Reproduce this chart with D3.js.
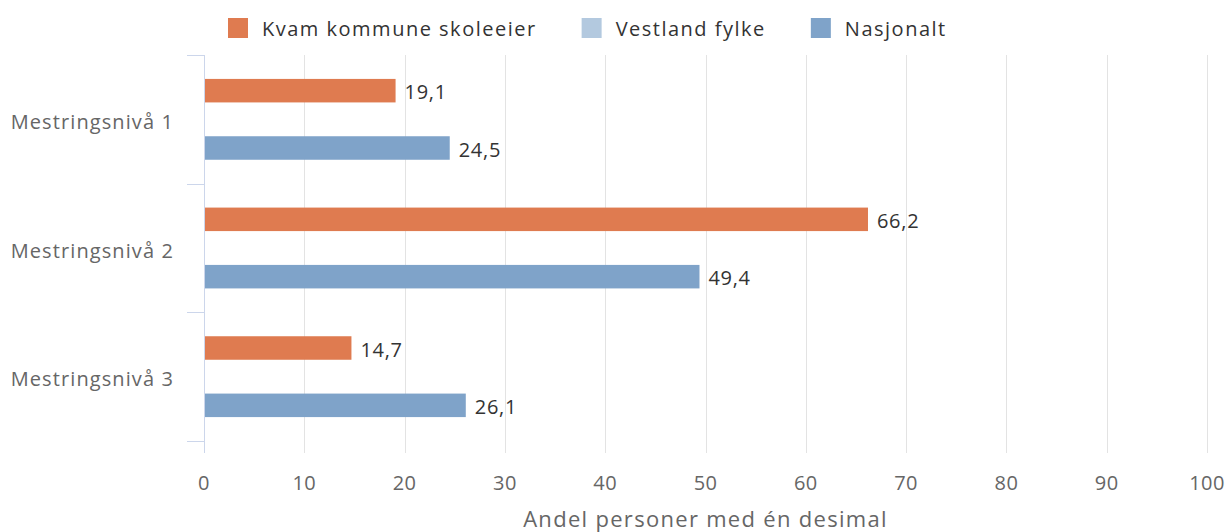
<!DOCTYPE html>
<html>
<head>
<meta charset="utf-8">
<script src="https://cdn.jsdelivr.net/npm/d3@7"></script>
<style>
  body { margin: 0; background: #fff; }
  svg { display: block; font-family: "Open Sans", "Noto Sans", sans-serif; }
</style>
</head>
<body>
<svg id="chart"></svg>
<script>
var categories = ["Mestringsnivå 1", "Mestringsnivå 2", "Mestringsnivå 3"];
var seriesNames = ["Kvam kommune skoleeier", "Vestland fylke", "Nasjonalt"];
var seriesColors = ["#df7b50", "#b3c9df", "#7fa3c9"];
var kvamValues = [19.1, 66.2, 14.7];
var vestlandValues = [null, null, null];
var nasjonaltValues = [24.5, 49.4, 26.1];
var xTicks = [0, 10, 20, 30, 40, 50, 60, 70, 80, 90, 100];
var axisTitle = "Andel personer med én desimal";

var width = 1228, height = 532;
var plotLeft = 204, plotRight = 1207, plotTop = 55, plotBottom = 453, catBottom = 441;

var svg = d3.select("#chart").attr("width", width).attr("height", height);

var x = d3.scaleLinear().domain([0, 100]).range([plotLeft, plotRight]);
var y = d3.scaleBand().domain(categories).range([plotTop, catBottom]);
var bw = y.bandwidth();
var inner = d3.scaleBand().domain(seriesNames)
    .range([bw / 2 - 43, bw / 2 + 43]).paddingInner(0.18).paddingOuter(0.09);

var allValues = [kvamValues, vestlandValues, nasjonaltValues];
var points = [];
seriesNames.forEach(function(s, si) {
  categories.forEach(function(c, ci) {
    var v = allValues[si][ci];
    if (v != null) points.push({series: s, color: seriesColors[si], cat: c, value: v});
  });
});

// grid lines
svg.append("g").selectAll("line")
  .data(xTicks.filter(function(d){ return d > 0; }))
  .enter().append("line")
    .attr("x1", function(d){ return Math.round(x(d)) + 0.5; })
    .attr("x2", function(d){ return Math.round(x(d)) + 0.5; })
    .attr("y1", plotTop).attr("y2", plotBottom)
    .attr("stroke", "#e3e3e3").attr("stroke-width", 1);

// category axis line and ticks
svg.append("line")
  .attr("x1", plotLeft + 0.5).attr("x2", plotLeft + 0.5)
  .attr("y1", plotTop).attr("y2", plotBottom)
  .attr("stroke", "#ccd6eb").attr("stroke-width", 1);

var bounds = categories.map(function(c){ return y(c); }).concat([catBottom]);
svg.append("g").selectAll("line")
  .data(bounds)
  .enter().append("line")
    .attr("x1", 187).attr("x2", plotLeft)
    .attr("y1", function(d){ return Math.round(d) + 0.5; })
    .attr("y2", function(d){ return Math.round(d) + 0.5; })
    .attr("stroke", "#ccd6eb").attr("stroke-width", 1);

// category labels
svg.append("g").selectAll("text")
  .data(categories)
  .enter().append("text")
    .attr("x", 174)
    .attr("y", function(d){ return y(d) + bw / 2 + 2; })
    .attr("text-anchor", "end")
    .attr("dominant-baseline", "central")
    .attr("fill", "#666")
    .style("font-size", "20px")
    .style("letter-spacing", "1.1px")
    .text(function(d){ return d; });

// bars
svg.append("g").selectAll("rect")
  .data(points)
  .enter().append("rect")
    .attr("x", x(0) + 1)
    .attr("y", function(d){ return y(d.cat) + inner(d.series); })
    .attr("width", function(d){ return x(d.value) - x(0) - 1; })
    .attr("height", inner.bandwidth())
    .attr("fill", function(d){ return d.color; });

// data labels
svg.append("g").selectAll("text")
  .data(points)
  .enter().append("text")
    .attr("x", function(d){ return x(d.value) + 9; })
    .attr("y", function(d){ return y(d.cat) + inner(d.series) + inner.bandwidth() / 2 + 1; })
    .attr("dominant-baseline", "central")
    .attr("fill", "#333")
    .style("font-size", "20px")
    .style("letter-spacing", "0.7px")
    .text(function(d){ return d3.format(".1f")(d.value).replace(".", ","); });

// x tick labels
svg.append("g").selectAll("text")
  .data(xTicks)
  .enter().append("text")
    .attr("x", function(d){ return x(d); })
    .attr("y", 490)
    .attr("text-anchor", "middle")
    .attr("fill", "#666")
    .style("font-size", "20px")
    .style("letter-spacing", "0.4px")
    .text(function(d){ return d; });

// axis title
svg.append("text")
  .attr("x", (plotLeft + plotRight) / 2)
  .attr("y", 527)
  .attr("text-anchor", "middle")
  .attr("fill", "#666")
  .style("font-size", "22px")
  .style("letter-spacing", "1.3px")
  .text(axisTitle);

// legend
var legend = svg.append("g");
var lx = 228;
seriesNames.forEach(function(s, i) {
  legend.append("rect")
    .attr("x", lx).attr("y", 18).attr("width", 20).attr("height", 20)
    .attr("fill", seriesColors[i]);
  var t = legend.append("text")
    .attr("x", lx + 34).attr("y", 28)
    .attr("dominant-baseline", "central")
    .attr("fill", "#333")
    .style("font-size", "20px")
    .style("letter-spacing", "1.5px")
    .text(s);
  lx += 34 + t.node().getComputedTextLength() + 45;
});
</script>
</body>
</html>
